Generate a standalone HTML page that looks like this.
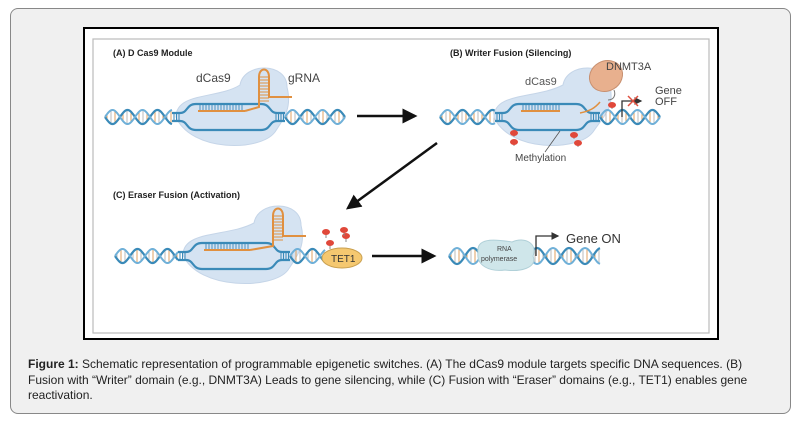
<!DOCTYPE html>
<html><head><meta charset="utf-8"><style>
body{margin:0;width:801px;height:427px;background:#fff;overflow:hidden;font-family:"Liberation Sans",Arial,sans-serif}
#outer{position:absolute;left:10px;top:8px;width:779px;height:404px;background:#f0f0f0;border:1px solid #888;border-radius:8px}
#fig{position:absolute;left:83px;top:27px;width:632px;height:309px;background:#fff;border:2px solid #000}
#cap{position:absolute;left:28px;top:357px;font-size:12px;line-height:15.5px;color:#222}
svg{position:absolute;left:0;top:0}
</style></head><body>
<div id="outer"></div>
<div id="fig"></div>
<svg id="s" width="801" height="427" viewBox="0 0 801 427">
<rect x="93" y="39" width="616" height="294" fill="none" stroke="#bbb" stroke-width="1.2"/>
<defs><marker id="ah" markerWidth="6" markerHeight="6" refX="5" refY="3" orient="auto"><path d="M0,0L6,3L0,6z" fill="#111"/></marker>
<marker id="ah2" markerWidth="6" markerHeight="6" refX="5" refY="3" orient="auto"><path d="M0,0L6,3L0,6z" fill="#333"/></marker></defs>
<g id="dna"></g>
<g font-family="Liberation Sans, Arial, sans-serif" fill="#222">
<text x="113" y="56" font-size="9" font-weight="bold">(A) D Cas9 Module</text>
<text x="450" y="56" font-size="9" font-weight="bold">(B) Writer Fusion (Silencing)</text>
<text x="113" y="198" font-size="9" font-weight="bold">(C) Eraser Fusion (Activation)</text>
<text x="196" y="82" font-size="12" fill="#444">dCas9</text>
<text x="288" y="82" font-size="12" fill="#444">gRNA</text>
<text x="525" y="85" font-size="11" fill="#555">dCas9</text>
<text x="606" y="70" font-size="11" fill="#444">DNMT3A</text>
<text x="655" y="94" font-size="11" fill="#444">Gene</text>
<text x="655" y="105" font-size="11" fill="#444">OFF</text>
<text x="515" y="161" font-size="10" fill="#444">Methylation</text>
<text x="566" y="243" font-size="13" fill="#333">Gene ON</text>
</g>
<line x1="357" y1="116" x2="415" y2="116" stroke="#111" stroke-width="2.5" marker-end="url(#ah)"/>
<line x1="437" y1="143" x2="348" y2="208" stroke="#111" stroke-width="2.5" marker-end="url(#ah)"/>
<line x1="372" y1="256" x2="434" y2="256" stroke="#111" stroke-width="2.5" marker-end="url(#ah)"/>
</svg>
<div id="cap"><b>Figure 1:</b> Schematic representation of programmable epigenetic switches. (A) The dCas9 module targets specific DNA sequences. (B)<br>Fusion with “Writer” domain (e.g., DNMT3A) Leads to gene silencing, while (C) Fusion with “Eraser” domains (e.g., TET1) enables gene<br>reactivation.</div>
<script>
var NS="http://www.w3.org/2000/svg",g=document.getElementById("dna");
function el(t,a){var e=document.createElementNS(NS,t);for(var k in a)e.setAttribute(k,a[k]);g.appendChild(e);return e;}
function helix(x0,x1,y,A,P){
 var d1="",d2="";
 for(var x=x0;x<=x1;x+=1){var t=(x-x0)/P*2*Math.PI;d1+=(x==x0?"M":"L")+x+","+(y+A*Math.sin(t)).toFixed(1);d2+=(x==x0?"M":"L")+x+","+(y-A*Math.sin(t)).toFixed(1);}
 for(var x=x0+2;x<x1;x+=4){var t=(x-x0)/P*2*Math.PI,h=Math.abs(A*Math.sin(t));if(h>2)el("line",{x1:x,y1:y-h,x2:x,y2:y+h,stroke:(x%8<4?"#e0a060":"#bbb"),"stroke-width":1});}
 el("path",{d:d1,fill:"none",stroke:"#3a8ab8","stroke-width":2.2});
 el("path",{d:d2,fill:"none",stroke:"#6fb0d8","stroke-width":2});
}
function blob(cx,y,w,hx){
 el("path",{d:"M"+(cx-w)+","+y+" C"+(cx-w)+","+(y-25)+" "+(cx-10)+","+(y-18)+" "+(hx-22)+","+(y-32)+" C"+(hx-18)+","+(y-55)+" "+(hx+25)+","+(y-55)+" "+(hx+25)+","+(y-30)+" C"+(hx+30)+","+(y-10)+" "+(cx+w+5)+","+(y)+" "+(cx+w-5)+","+(y+15)+" C"+(cx+w-20)+","+(y+35)+" "+(cx-w+15)+","+(y+35)+" "+(cx-w)+","+y+"z",fill:"#d5e3f2",stroke:"#c5d5e8","stroke-width":1});
}
function bubble(x0,x1,y,top,hx){
 el("path",{d:"M"+x0+","+(y-4)+" L"+(x0+8)+","+(y-4)+" C"+(x0+16)+","+(y-4)+" "+(x0+14)+","+(y-13)+" "+(x0+24)+","+(y-13)+" L"+(x1-24)+","+(y-13)+" C"+(x1-14)+","+(y-13)+" "+(x1-16)+","+(y-4)+" "+(x1-8)+","+(y-4)+" L"+x1+","+(y-4),fill:"none",stroke:"#3a8ab8","stroke-width":2.2});
 el("path",{d:"M"+x0+","+(y+4)+" L"+(x0+8)+","+(y+4)+" C"+(x0+16)+","+(y+4)+" "+(x0+14)+","+(y+13)+" "+(x0+24)+","+(y+13)+" L"+(x1-24)+","+(y+13)+" C"+(x1-14)+","+(y+13)+" "+(x1-16)+","+(y+4)+" "+(x1-8)+","+(y+4)+" L"+x1+","+(y+4),fill:"none",stroke:"#3a8ab8","stroke-width":2.2});
 for(var x=x0+2;x<x0+9;x+=2.5)el("line",{x1:x,y1:y-4,x2:x,y2:y+4,stroke:"#3a8ab8"});
 for(var x=x1-9;x<x1;x+=2.5)el("line",{x1:x,y1:y-4,x2:x,y2:y+4,stroke:"#3a8ab8"});
 for(var x=x0+28;x<x1-40;x+=3)el("line",{x1:x,y1:y-12,x2:x,y2:y-7,stroke:"#4a90c0"});
 el("line",{x1:x0+26,y1:y-6,x2:x1-40,y2:y-6,stroke:"#e09040","stroke-width":2});
 if(top){el("path",{d:"M"+(x1-40)+","+(y-6)+" L"+(hx-3)+","+(y-10)+" L"+(hx-3)+","+(y-40)+" C"+(hx-3)+","+(y-50)+" "+(hx+7)+","+(y-50)+" "+(hx+7)+","+(y-40)+" L"+(hx+7)+","+(y-20)+" L"+(hx+30)+","+(y-20),fill:"none",stroke:"#e09040","stroke-width":2});
 for(var yy=y-40;yy<y-13;yy+=3)el("line",{x1:hx-3,y1:yy,x2:hx+7,y2:yy,stroke:"#e09040","stroke-width":1});}
}
helix(105,172,117,7,30);blob(228,117,52,262);bubble(172,285,117,1,262);helix(285,345,117,7,30);
helix(440,495,117,7,30);blob(546,117,52,585);bubble(495,600,117,0,0);helix(600,660,117,7,30);
el("path",{d:"M580,113 C590,111 595,108 600,102",fill:"none",stroke:"#e09040","stroke-width":1.5});
el("ellipse",{cx:606,cy:76,rx:17,ry:15,transform:"rotate(-30 606 76)",fill:"#e8b08e",stroke:"#c89070"});
el("path",{d:"M614,90 C616,95 614,100 608,100",fill:"none",stroke:"#777","stroke-width":1});
el("path",{d:"M622,117 L622,101 L641,101",fill:"none",stroke:"#333","stroke-width":1.3,"marker-end":"url(#ah2)"});
el("path",{d:"M628,96 L638,106 M638,96 L628,106",stroke:"#e05040","stroke-width":1.5});
[[612,105],[514,133],[514,142],[574,135],[578,143]].forEach(function(p){el("line",{x1:p[0],y1:p[1],x2:p[0],y2:p[1]+4,stroke:"#888"});el("ellipse",{cx:p[0],cy:p[1],rx:4,ry:3,fill:"#e0483a"});});
el("line",{x1:560,y1:131,x2:545,y2:152,stroke:"#555","stroke-width":0.8});
helix(115,178,256,7,30);blob(238,255,55,276);bubble(178,290,256,1,276);helix(290,325,256,7,30);
el("ellipse",{cx:342,cy:258,rx:20,ry:10,fill:"#f5c870",stroke:"#c9a050"});
el("text",{x:331,y:262,"font-size":10,"font-family":"Liberation Sans",fill:"#333"}).textContent="TET1";
[[330,243],[346,236],[326,232],[344,230]].forEach(function(p){el("line",{x1:p[0],y1:p[1],x2:p[0],y2:p[1]+6,stroke:"#888"});el("ellipse",{cx:p[0],cy:p[1],rx:4,ry:3,fill:"#e0483a"});});
helix(449,600,256,8,32);
el("path",{d:"M478,252 C476,236 500,240 512,242 C525,236 538,244 533,256 C538,268 520,272 505,270 C490,272 476,266 478,252z",fill:"#cfe6ea",stroke:"#b0d0d8"});
el("text",{x:497,y:251,"font-size":7,"font-family":"Liberation Sans",fill:"#444"}).textContent="RNA";
el("text",{x:481,y:261,"font-size":7,"font-family":"Liberation Sans",fill:"#444"}).textContent="polymerase";
el("path",{d:"M536,256 L536,236 L558,236",fill:"none",stroke:"#333","stroke-width":1.3,"marker-end":"url(#ah2)"});
</script>
</body></html>
